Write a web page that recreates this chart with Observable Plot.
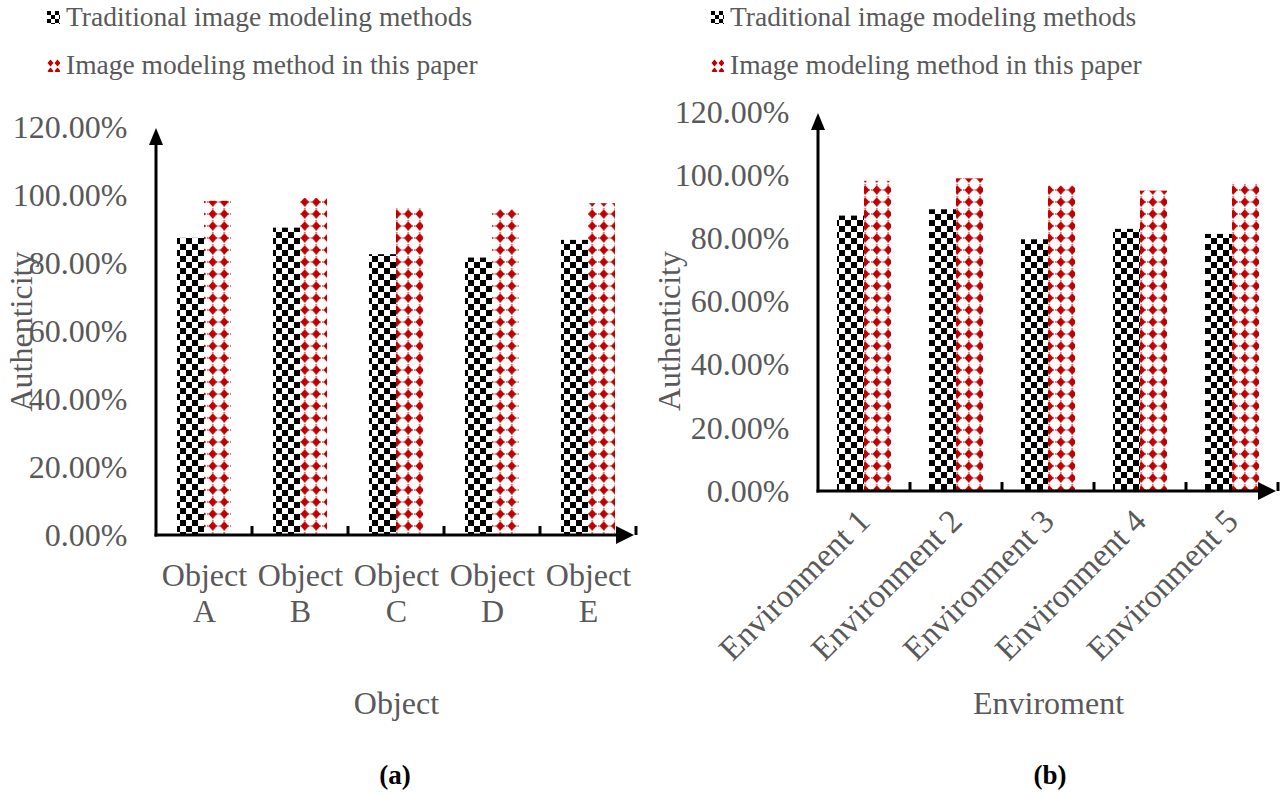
<!DOCTYPE html>
<html>
<head>
<meta charset="utf-8">
<script src="https://cdn.jsdelivr.net/npm/d3@7"></script>
<script src="https://cdn.jsdelivr.net/npm/@observablehq/plot@0.6"></script>
<style>
  body { margin: 0; background: white; }
  #root { position: relative; width: 1282px; height: 797px; background: white; overflow: hidden;
          font-family: "Liberation Serif", "Times New Roman", serif; }
  .legend { position: absolute; top: -7px; color: #595959; font-size: 27.5px; }
  .legend .row { height: 48px; display: flex; align-items: center; white-space: nowrap; }
  .legend svg { margin-right: 6px; }
  .cap { position: absolute; top: 757px; width: 120px; text-align: center; font-weight: bold;
         font-size: 27px; line-height: 36px; color: black; }
  .panel { position: absolute; top: 100px; }
</style>
</head>
<body>
<svg width="0" height="0" style="position:absolute">
  <defs>
    <pattern id="chk" width="12" height="12" patternUnits="userSpaceOnUse">
      <rect width="12" height="12" fill="white"/>
      <rect width="6" height="6" fill="black"/>
      <rect x="6" y="6" width="6" height="6" fill="black"/>
    </pattern>
    <pattern id="dia" width="11.5" height="12" patternUnits="userSpaceOnUse">
      <rect width="11.5" height="12" fill="white"/>
      <line x1="5.75" y1="0" x2="5.75" y2="12" stroke="#C00000" stroke-width="1" stroke-dasharray="1.5 1.5"/>
      <line x1="0" y1="6" x2="11.5" y2="6" stroke="#C00000" stroke-width="1" stroke-dasharray="1.5 1.5"/>
      <path d="M5.75,1.3 L10,6 L5.75,10.7 L1.5,6Z" fill="#C00000"/>
    </pattern>
    <pattern id="chkL" width="8" height="8" patternUnits="userSpaceOnUse">
      <rect width="8" height="8" fill="white"/>
      <rect width="4" height="4" fill="black"/>
      <rect x="4" y="4" width="4" height="4" fill="black"/>
    </pattern>
    <pattern id="diaL" width="7" height="8" patternUnits="userSpaceOnUse">
      <rect width="7" height="8" fill="white"/>
      <path d="M3.5,0.5 L6.5,4 L3.5,7.5 L0.5,4Z" fill="#C00000"/>
    </pattern>
  </defs>
</svg>
<div id="root">
  <div class="legend" id="legA" style="left:47px"></div>
  <div class="legend" id="legB" style="left:711px"></div>
  <div class="panel" id="panelA" style="left:0px"></div>
  <div class="panel" id="panelB" style="left:641px"></div>
  <div class="cap" id="capA" style="left:335px"></div>
  <div class="cap" id="capB" style="left:990px"></div>
</div>
<script>
// ---- data ----
const seriesNames = ["Traditional image modeling methods", "Image modeling method in this paper"];
const seriesFills = ["url(#chk)", "url(#dia)"];
const legendFills = ["url(#chkL)", "url(#diaL)"];

const categoriesA = ["Object A", "Object B", "Object C", "Object D", "Object E"];
const tradA = [0.874, 0.904, 0.826, 0.816, 0.868];
const oursA = [0.983, 0.991, 0.961, 0.958, 0.976];

const categoriesB = ["Environment 1", "Environment 2", "Environment 3", "Environment 4", "Environment 5"];
const tradB = [0.872, 0.892, 0.797, 0.830, 0.814];
const oursB = [0.982, 0.990, 0.967, 0.951, 0.976];

const yTicks = [0, 0.2, 0.4, 0.6, 0.8, 1.0, 1.2];
const yTitle = "Authenticity";
const xTitleA = "Object";
const xTitleB = "Enviroment";
const captions = ["(a)", "(b)"];

const FONT = '"Liberation Serif", "Times New Roman", serif';
const TEXT = "#595959";

// axis lines with arrowheads and boundary ticks
function axesMark(categories) {
  return (index, scales, values, dim) => {
    const {x, y} = scales;
    const g = d3.create("svg:g");
    const x0 = dim.marginLeft, x1 = dim.width - dim.marginRight;
    const y0 = y(0), yTop = y(yTicks[yTicks.length - 1]) + 1;
    g.append("line").attr("x1", x0).attr("x2", x0).attr("y1", y0 + 1.5).attr("y2", yTop + 10)
      .attr("stroke", "black").attr("stroke-width", 3);
    g.append("path").attr("d", `M${x0},${yTop}L${x0 - 7},${yTop + 17}L${x0 + 7},${yTop + 17}Z`).attr("fill", "black");
    const tip = x1 - 2;
    g.append("line").attr("x1", x0 - 1.5).attr("x2", tip - 10).attr("y1", y0).attr("y2", y0)
      .attr("stroke", "black").attr("stroke-width", 3);
    g.append("path").attr("d", `M${tip},${y0}L${tip - 18},${y0 - 9}L${tip - 18},${y0 + 9}Z`).attr("fill", "black");
    const bw = x.bandwidth ? x.bandwidth() : (x1 - x0) / categories.length;
    for (const c of categories) {
      const xe = x(c) + bw;
      g.append("line").attr("x1", xe).attr("x2", xe).attr("y1", y0).attr("y2", y0 - 9)
        .attr("stroke", "black").attr("stroke-width", 3);
    }
    return g.node();
  };
}

function panel({categories, trad, ours, width, height, ml, mr, mt, mb, barW, xTitle, xTitleDy,
                yTitleDx, yTitleDy, xAxisOpts, xFont}) {
  const rows = categories.map((c, i) => ({cat: c, trad: trad[i], ours: ours[i]}));
  const bw = (width - ml - mr) / categories.length;
  const outer = bw / 2 - barW, inner = bw / 2;
  return Plot.plot({
    width, height, marginLeft: ml, marginRight: mr, marginTop: mt, marginBottom: mb,
    style: {fontFamily: FONT, color: TEXT, background: "transparent", overflow: "visible"},
    x: {type: "band", domain: categories, padding: 0},
    y: {domain: [0, 1.2]},
    marks: [
      Plot.barY(rows, {x: "cat", y: "trad", fill: seriesFills[0], insetLeft: outer, insetRight: inner}),
      Plot.barY(rows, {x: "cat", y: "ours", fill: seriesFills[1], insetLeft: inner, insetRight: outer}),
      Plot.axisY({ticks: yTicks, tickFormat: d3.format(".2%"), tickSize: 0, tickPadding: 29,
                  fontSize: 32, label: null, fill: TEXT}),
      Plot.axisX({tickSize: 0, fontSize: xFont, label: null, fill: TEXT, ...xAxisOpts}),
      Plot.text([xTitle], {text: d => d, frameAnchor: "bottom", dy: xTitleDy, fontSize: 32, fill: TEXT,
                           lineAnchor: "middle"}),
      Plot.text([yTitle], {text: d => d, frameAnchor: "left", dx: yTitleDx, dy: yTitleDy, rotate: -90,
                           fontSize: 32, fill: TEXT, lineAnchor: "middle", textAnchor: "middle"}),
      axesMark(categories)
    ]
  });
}

document.getElementById("panelA").append(panel({
  categories: categoriesA, trad: tradA, ours: oursA,
  width: 641, height: 640, ml: 156, mr: 5, mt: 27, mb: 205, barW: 27,
  xTitle: xTitleA, xTitleDy: 168, yTitleDx: -135, yTitleDy: 0, xFont: 32,
  xAxisOpts: {tickPadding: 24, lineHeight: 1.15, tickFormat: d => d.replace(" ", "\n")}
}));

document.getElementById("panelB").append(panel({
  categories: categoriesB, trad: tradB, ours: oursB,
  width: 641, height: 640, ml: 177, mr: 4, mt: 12, mb: 249, barW: 27,
  xTitle: xTitleB, xTitleDy: 212, yTitleDx: -149, yTitleDy: 29, xFont: 33,
  xAxisOpts: {tickRotate: -45, tickPadding: 24}
}));

function legend(el) {
  seriesNames.forEach((name, i) => {
    const row = document.createElement("div");
    row.className = "row";
    row.innerHTML = `<svg width="13" height="13"><rect width="13" height="13" fill="${legendFills[i]}"/></svg><span></span>`;
    row.querySelector("span").textContent = name;
    el.append(row);
  });
}
legend(document.getElementById("legA"));
legend(document.getElementById("legB"));
document.getElementById("capA").textContent = captions[0];
document.getElementById("capB").textContent = captions[1];
</script>
</body>
</html>
